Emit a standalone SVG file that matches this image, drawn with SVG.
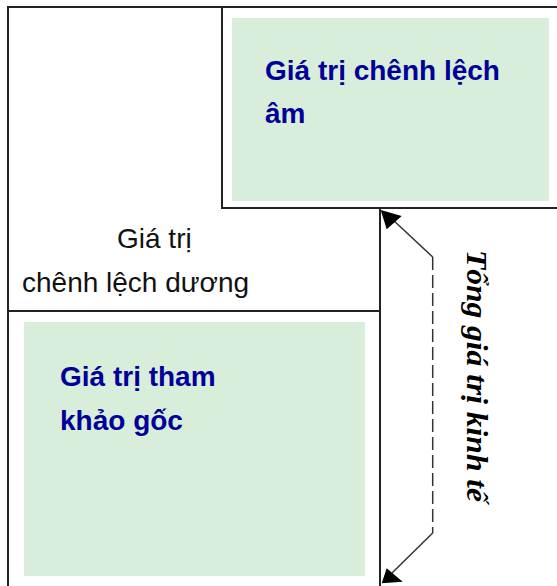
<svg xmlns="http://www.w3.org/2000/svg" width="557" height="586" viewBox="0 0 557 586">
<style>
.box{fill:none;stroke:#222;stroke-width:2}
.fill{fill:#d9eddb;stroke:none}
.bold{font-family:"Liberation Sans","DejaVu Sans",sans-serif;font-weight:bold;font-size:28px;fill:#000099}
.norm{font-family:"Liberation Sans","DejaVu Sans",sans-serif;font-size:28px;fill:#111}
.vert{font-family:"Liberation Serif","DejaVu Serif",serif;font-weight:bold;font-style:italic;font-size:29px;fill:#000}
.conn{fill:none;stroke:#333;stroke-width:1.5}
</style>
<rect width="557" height="586" fill="#fff"/>
<g id="outer">
<path class="box" d="M8,600 V7 H560"/>
</g>
<g id="positive">
<path class="box" d="M8,311 H380 M380,208 V600"/>
<text class="norm" x="117" y="248">Giá trị</text>
<text class="norm" x="22" y="292">chênh lệch dương</text>
</g>
<g id="negative">
<rect x="222" y="7" width="340" height="201" class="box"/>
<rect class="fill" x="232" y="18" width="317" height="183"/>
<text class="bold" x="265" y="80">Giá trị chênh lệch</text>
<text class="bold" x="265" y="123">âm</text>
</g>
<g id="base">
<rect class="fill" x="24" y="322" width="341" height="254"/>
<text class="bold" x="60" y="386">Giá trị tham</text>
<text class="bold" x="60" y="430">khảo gốc</text>
</g>
<g id="connectors">
<path class="conn" d="M432.7,257 L392,219"/>
<path class="conn" stroke-dasharray="13,5" d="M432.7,257 V533"/>
<path class="conn" d="M432.7,533 L392,573"/>
<path d="M380.7,210 L401.7,216 L386.7,229.3 z" fill="#000"/>
<path d="M381.7,583.3 L386.7,568.3 L402.7,581.7 z" fill="#000"/>
</g>
<g id="label-total">
<text class="vert" transform="translate(467,250) rotate(90)" textLength="252" lengthAdjust="spacingAndGlyphs">Tổng giá trị kinh tế</text>
</g>
</svg>
